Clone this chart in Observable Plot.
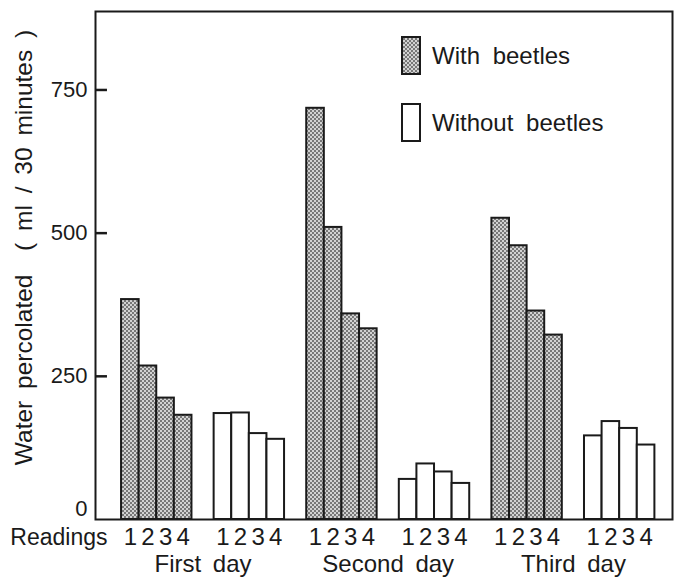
<!DOCTYPE html>
<html>
<head>
<meta charset="utf-8">
<script src="https://cdn.jsdelivr.net/npm/d3@7"></script>
<script src="https://cdn.jsdelivr.net/npm/@observablehq/plot@0.6"></script>
<style>
  body { margin: 0; background: #fff; }
  #wrap { position: relative; width: 674px; height: 580px; font-family: "Liberation Sans", Arial, sans-serif; color: #1a1a1a; }
  #wrap svg text { word-spacing: 5px; }
  .legend { position: absolute; left: 401px; top: 36px; }
  .legend .item { position: absolute; left: 0; display: flex; align-items: center; white-space: nowrap; }
  .legend .item span { margin-left: 11px; font-size: 24px; word-spacing: 6px; line-height: 1; }
  .legend svg { display: block; }
</style>
</head>
<body>
<div id="wrap"></div>
<script>
// ---- data ----
const days = ["First day", "Second day", "Third day"];
const conditions = ["With beetles", "Without beetles"];
const readings = [1, 2, 3, 4];
const withBeetles    = [[384, 268, 212, 182], [718, 510, 359, 333], [526, 478, 364, 322]];
const withoutBeetles = [[185, 186, 150, 140], [70, 97, 83, 63], [146, 171, 159, 130]];
const yTicks = [0, 250, 500, 750];
const yLabel = "Water percolated  ( ml / 30 minutes )";
const xLabel = "Readings";

// ---- layout constants (in bar-width units) ----
const GROUP_STEP = 5.26;
const X_DOMAIN = [-1.48, 5 * GROUP_STEP + 4 + 1.0];
const Y_DOMAIN = [0, 887];
const TICK_LEN = 0.68; // inward tick length, bar-width units

const rows = [];
days.forEach((day, di) => conditions.forEach((cond, ci) => {
  const vals = ci === 0 ? withBeetles[di] : withoutBeetles[di];
  const g = di * 2 + ci;
  readings.forEach((r, ri) => {
    rows.push({day, cond, reading: r, value: vals[ri], x1: g * GROUP_STEP + ri, x2: g * GROUP_STEP + ri + 1});
  });
}));
const readingByCenter = new Map(rows.map(d => [d.x1 + 0.5, String(d.reading)]));
const dayByCenter = new Map(days.map((day, di) => [(di * 2 * GROUP_STEP + (di * 2 + 1) * GROUP_STEP + 4) / 2, day]));
const tickRows = yTicks.slice(1).map(v => ({v, a: X_DOMAIN[0], b: X_DOMAIN[0] + TICK_LEN}));

const INK = "#1a1a1a";
const plot = Plot.plot({
  width: 674, height: 580,
  marginLeft: 95, marginRight: 2, marginTop: 11, marginBottom: 61,
  style: {fontFamily: '"Liberation Sans", Arial, sans-serif', fontSize: "22px", color: INK, background: "white", overflow: "visible"},
  x: {domain: X_DOMAIN, axis: null},
  y: {domain: Y_DOMAIN, axis: null},
  color: {domain: conditions, range: ["url(#stipple)", "white"]},
  marks: [
    Plot.rectY(rows, {x1: "x1", x2: "x2", y: "value", fill: "cond", stroke: INK, strokeWidth: 2}),
    Plot.frame({stroke: INK, strokeWidth: 2}),
    Plot.ruleY(tickRows, {y: "v", x1: "a", x2: "b", stroke: INK, strokeWidth: 2.5}),
    Plot.axisY(yTicks.slice(1), {tickSize: 0, tickPadding: 8, label: null}),
    Plot.axisY(yTicks.slice(0, 1), {tickSize: 0, tickPadding: 8, dy: -11, label: null}),
    Plot.text([yLabel], {text: d => d, frameAnchor: "left", rotate: -90, textAnchor: "middle", lineAnchor: "middle", dx: -71, dy: -18, fontSize: 24.5, fill: INK}),
    Plot.axisX([...readingByCenter.keys()], {tickSize: 0, tickPadding: 8, tickFormat: v => readingByCenter.get(v), fontSize: 24, label: null}),
    Plot.axisX([...dayByCenter.keys()], {tickSize: 0, tickPadding: 35, tickFormat: v => dayByCenter.get(v), fontSize: 24, label: null}),
    Plot.text([xLabel], {text: d => d, frameAnchor: "bottom-left", textAnchor: "end", lineAnchor: "top", dx: 12, dy: 9, fontSize: 23, fill: INK})
  ]
});

// stipple pattern for "with beetles"
const defs = d3.select(plot).insert("defs", ":first-child");
const pat = defs.append("pattern").attr("id", "stipple").attr("patternUnits", "userSpaceOnUse").attr("width", 4).attr("height", 4);
pat.append("rect").attr("width", 4).attr("height", 4).attr("fill", "#d2d2d2");
pat.append("circle").attr("cx", 1).attr("cy", 1).attr("r", 0.95).attr("fill", "#505050");
pat.append("circle").attr("cx", 3).attr("cy", 3).attr("r", 0.95).attr("fill", "#505050");

const wrap = document.getElementById("wrap");
wrap.appendChild(plot);

// legend (inside the frame, top right)
const legend = document.createElement("div");
legend.className = "legend";
const swatchTops = [0, 67];
conditions.forEach((c, i) => {
  const item = document.createElement("div");
  item.className = "item";
  item.style.top = swatchTops[i] + "px";
  item.innerHTML = `<svg width="20" height="39"><rect x="1" y="1" width="18" height="37" fill="${i === 0 ? "url(#stipple)" : "white"}" stroke="${INK}" stroke-width="2"/></svg><span>${c}</span>`;
  legend.appendChild(item);
});
wrap.appendChild(legend);
</script>
</body>
</html>
